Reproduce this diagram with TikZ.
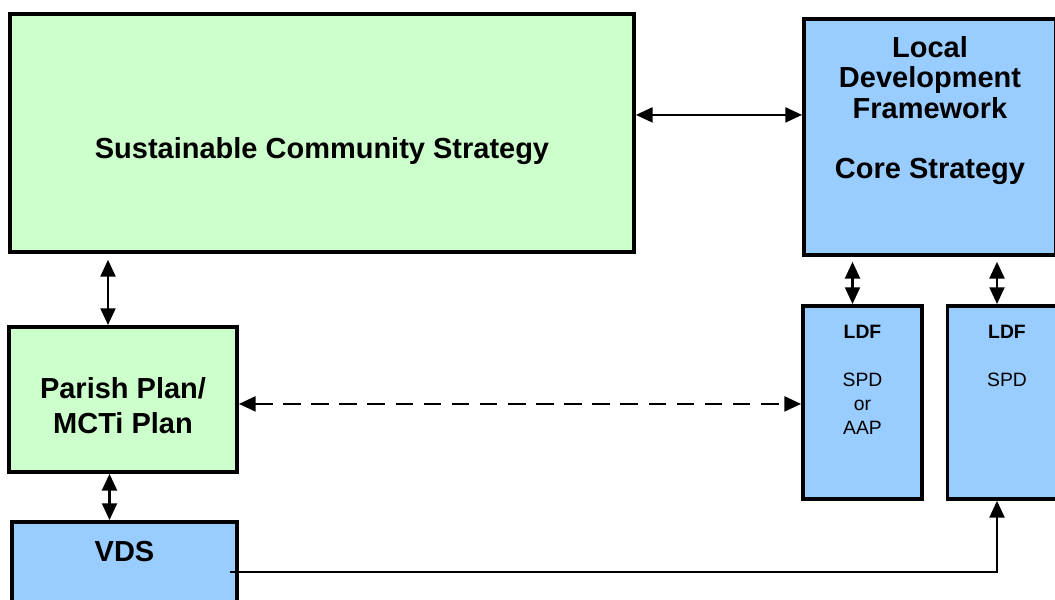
\documentclass[tikz,border=0pt]{standalone}
\usepackage{fontspec}
\setmainfont{Liberation Sans}
\usepackage{tikz}
\usetikzlibrary{positioning}
\usetikzlibrary{arrows.meta}
\definecolor{plangreen}{HTML}{CCFFCC}
\definecolor{planblue}{HTML}{99CCFF}
\tikzstyle{plan}=[draw, line width=2.2pt, anchor=north, inner xsep=0pt, inner ysep=0pt, align=center, font=\bfseries\fontsize{16.5}{17.3}\selectfont]
\tikzstyle{green}=[plan, fill=plangreen]
\tikzstyle{blue}=[plan, fill=planblue]
\tikzstyle{small}=[blue, font=\fontsize{11}{13.7}\selectfont, minimum width=2.38cm]
\tikzstyle{link}=[line width=1.3pt, {Triangle[length=9.5pt,width=8.5pt]}-{Triangle[length=9.5pt,width=8.5pt]}]
\tikzstyle{feed}=[line width=1.3pt, -{Triangle[length=9.5pt,width=8.5pt]}]

\begin{document}
\begin{tikzpicture}[x=0.02cm, y=-0.02cm]
            \useasboundingbox (0,0) rectangle (1055,599);
            \clip (0,0) rectangle (1055,599);

            \node[green, minimum width=12.48cm, text height=2.9cm, text depth=1.86cm] (scs) at (322,12) {Sustainable Community Strategy};
            \node[blue, minimum width=5.04cm, text height=3.2cm, text depth=1.52cm] (ldf) at (930,17) {Local\\Development\\Framework\\[17.3pt]Core Strategy};
            \node[small, text height=2.58cm, text depth=1.28cm] (ldfa) at (862.5,304) {\textbf{LDF}\\[13.7pt]SPD\\or\\AAP};
            \node[small, text height=1.62cm, text depth=2.24cm] (ldfb) at (1007,304) {\textbf{LDF}\\[13.7pt]SPD};
            \node[green, minimum width=4.56cm, text height=2.14cm, text depth=0.76cm, font=\bfseries\fontsize{16.5}{19.9}\selectfont] (parish) at (123,325) {Parish Plan/\\MCTi Plan};
            \node[blue, minimum width=4.5cm, text height=0.8cm, text depth=1.6cm] (vds) at (124.5,520) {VDS};

            \draw[link] ([yshift=0.36cm]scs.east) -- ([yshift=0.36cm]scs.east -| ldf.west);
            \draw[link, shorten >=0.12cm] ([xshift=-0.3cm]parish.north) -- ([xshift=-0.3cm]parish.north |- scs.south);
            \draw[link, shorten >=0.1cm] ([xshift=-0.2cm]ldfa.north) -- ([xshift=-0.2cm]ldfa.north |- ldf.south);
            \draw[link, shorten >=0.1cm] ([xshift=-0.2cm]ldfb.north) -- ([xshift=-0.2cm]ldfb.north |- ldf.south);
            \draw[link] ([xshift=-0.3cm]vds.north) -- ([xshift=-0.3cm]vds.north |- parish.south);
            \draw[link, dash pattern=on 10pt off 6pt] ([yshift=-0.09cm]parish.east) -- ([yshift=-0.09cm]parish.east -| ldfa.west);

            \draw[feed] ([xshift=-0.18cm, yshift=0.2cm]vds.east) -| ([xshift=-0.2cm]ldfb.south);
        \end{tikzpicture}
\end{document}
